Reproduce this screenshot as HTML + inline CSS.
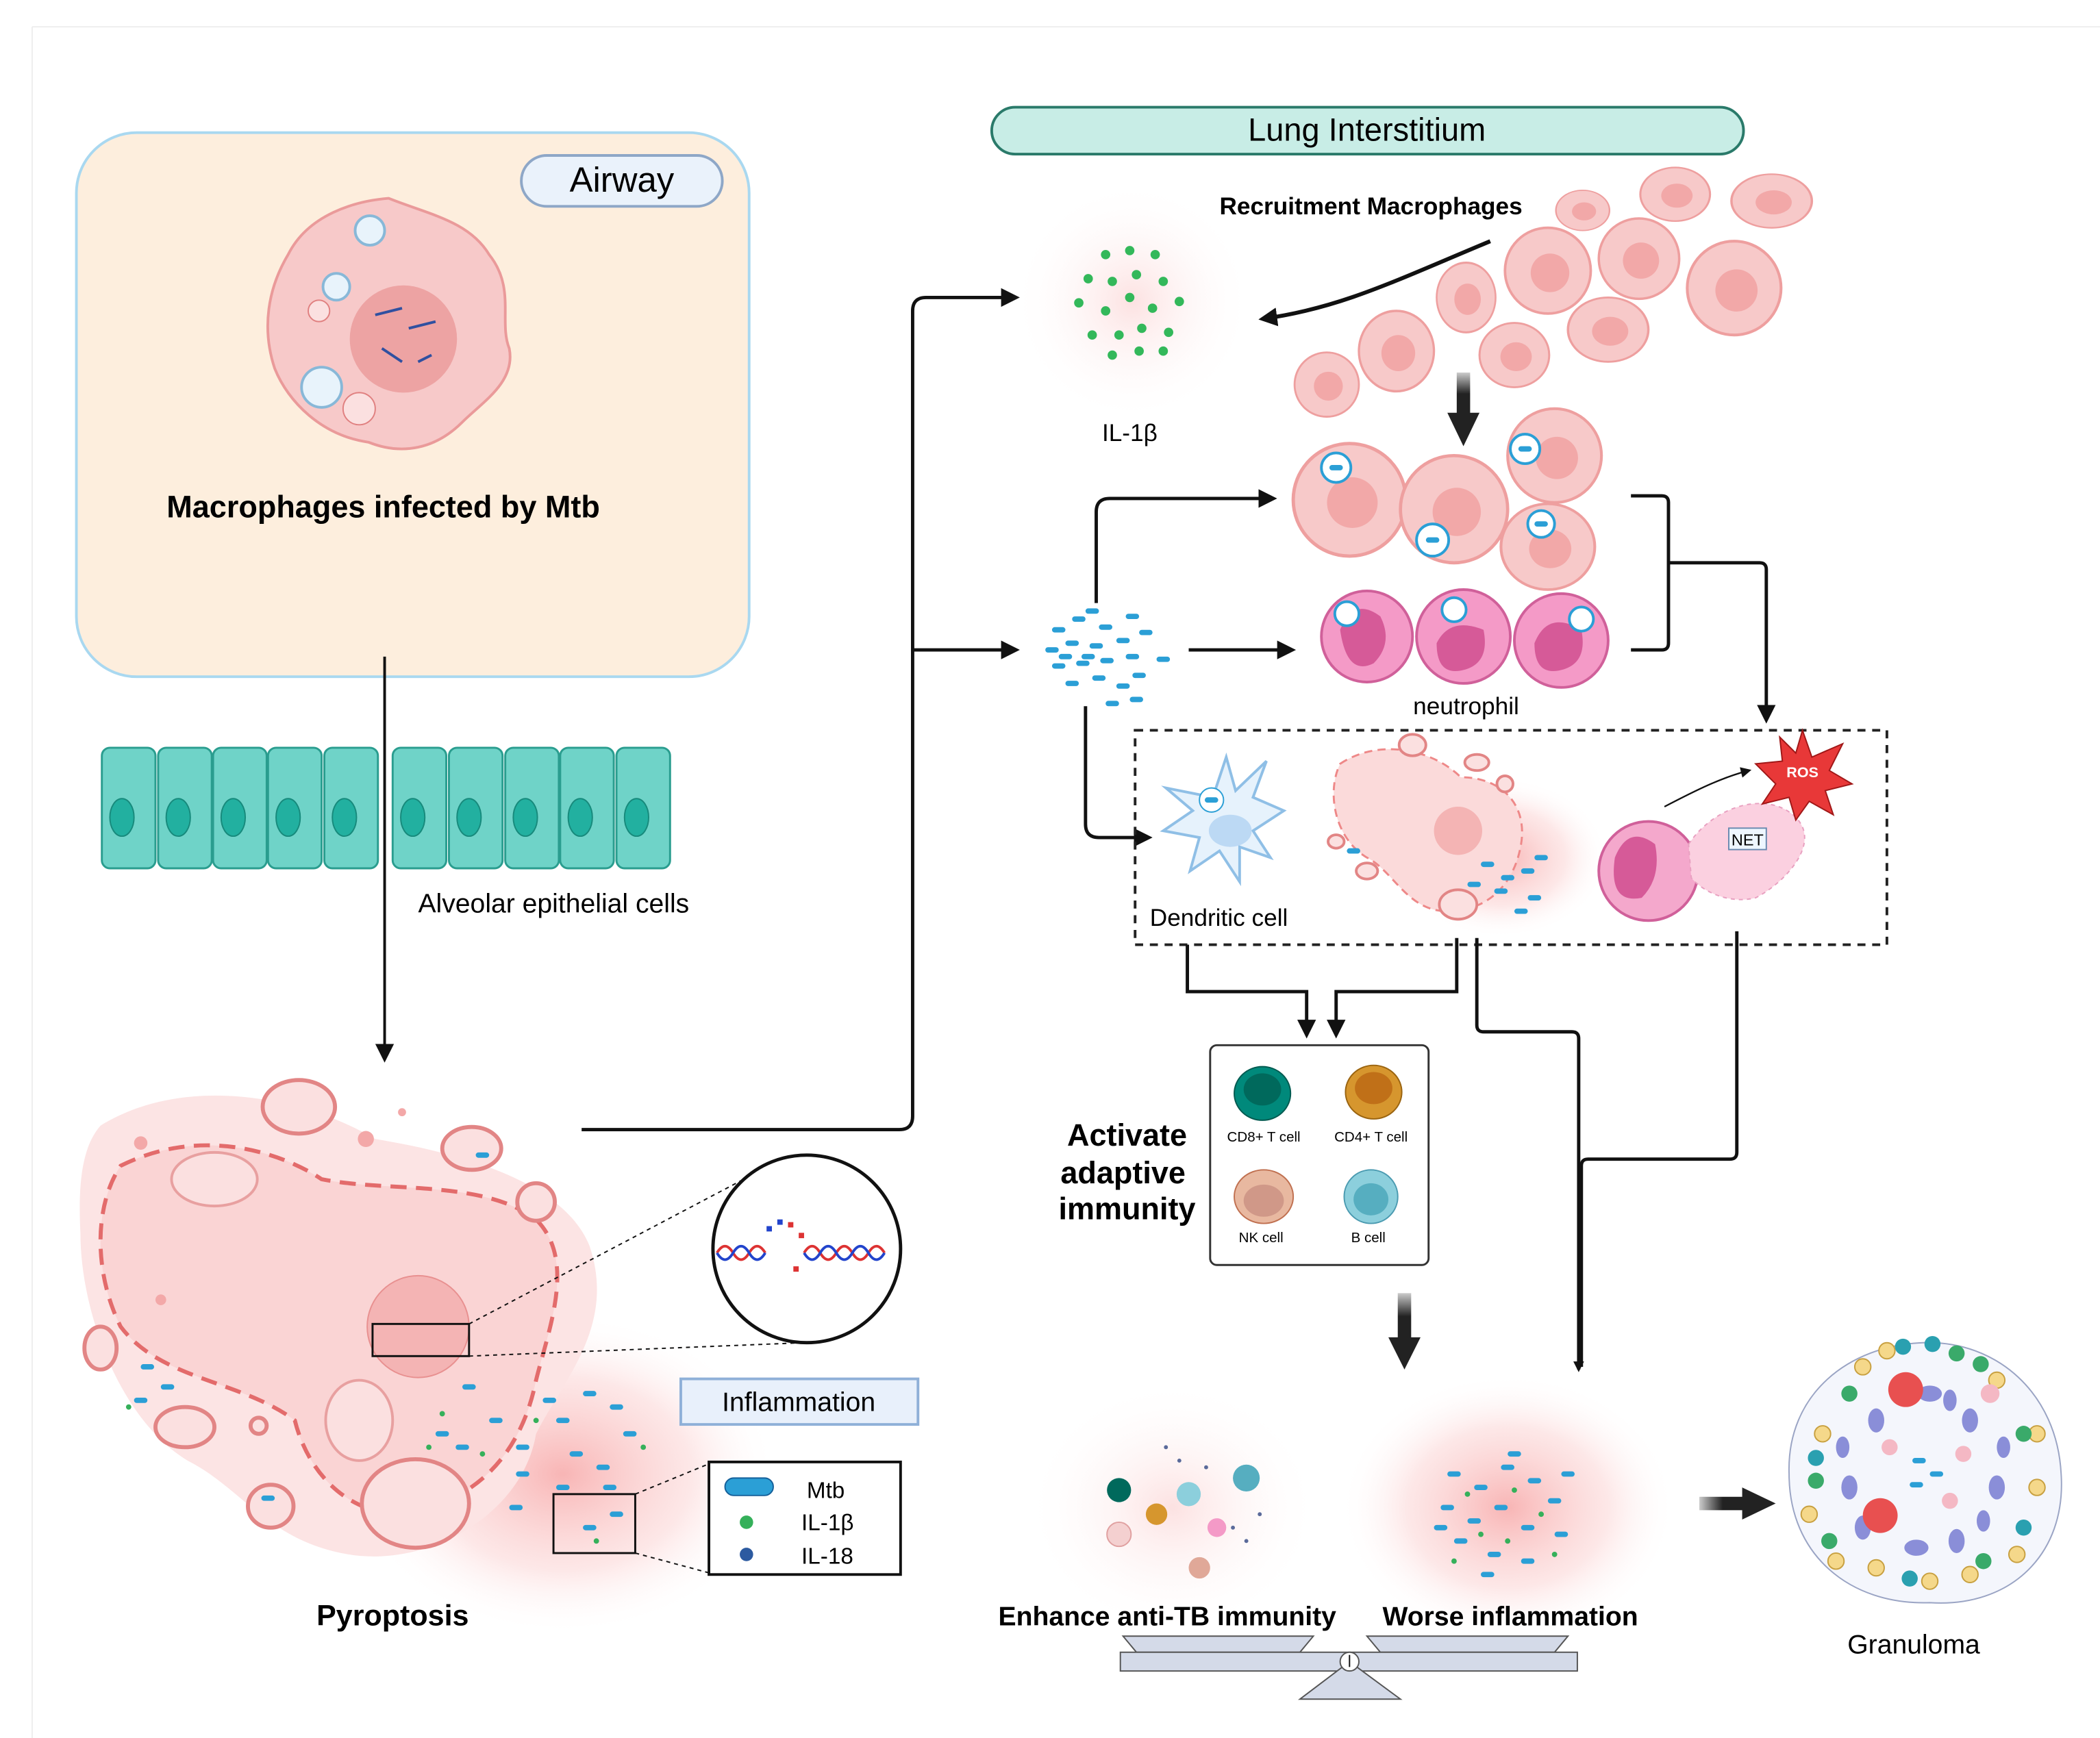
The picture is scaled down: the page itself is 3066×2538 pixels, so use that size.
<!DOCTYPE html>
<html><head><meta charset="utf-8"><style>
html,body{margin:0;padding:0;background:#fff}
svg{display:block}
text{font-family:"Liberation Sans",sans-serif}
</style></head><body>
<svg width="3066" height="2538" viewBox="0 0 1567 1297" preserveAspectRatio="none" xmlns="http://www.w3.org/2000/svg">
<defs>
<marker id="ah" markerWidth="8" markerHeight="8" refX="6" refY="4" orient="auto" markerUnits="userSpaceOnUse"><path d="M0,0 L8,4 L0,8 Z" fill="#111"/></marker>
<marker id="ah2" markerWidth="14" markerHeight="14" refX="11" refY="7" orient="auto" markerUnits="userSpaceOnUse"><path d="M0,0 L14,7 L0,14 Z" fill="#111"/></marker>
<radialGradient id="glowR"><stop offset="0" stop-color="#f7a8a8" stop-opacity=".85"/><stop offset=".6" stop-color="#fbd0d0" stop-opacity=".5"/><stop offset="1" stop-color="#fff" stop-opacity="0"/></radialGradient>
<radialGradient id="glowL"><stop offset="0" stop-color="#fcdede" stop-opacity=".9"/><stop offset="1" stop-color="#fff" stop-opacity="0"/></radialGradient>
<linearGradient id="tarrow" x1="0" x2="0" y1="0" y2="1"><stop offset="0" stop-color="#ccc"/><stop offset=".5" stop-color="#222"/></linearGradient>
<linearGradient id="tarrowH" x1="0" x2="1"><stop offset="0" stop-color="#ccc"/><stop offset=".5" stop-color="#222"/></linearGradient>
<g id="mac"><circle r="1" fill="#f7c9c9" stroke="#ee9f9f" stroke-width=".06"/><circle cx=".05" cy=".05" r=".45" fill="#f2a8a8"/></g>
<g id="mtb"><rect x="-5" y="-2" width="10" height="4" rx="2" fill="#2b9fd6"/></g>
</defs>
<rect width="1567" height="1297" fill="#fff"/>
<line x1="24" y1="20" x2="24" y2="1297" stroke="#eee"/>
<line x1="24" y1="20" x2="1567" y2="20" stroke="#eee"/>

<!-- Airway box -->
<rect x="57" y="99" width="502" height="406" rx="45" fill="#fdeedd" stroke="#a9d8f0" stroke-width="2"/>
<rect x="389" y="116" width="150" height="38" rx="19" fill="#eaf2fb" stroke="#8ea7c7" stroke-width="2"/>
<text x="464" y="143" font-size="26" text-anchor="middle">Airway</text>
<path d="M290,148 C320,160 350,165 365,190 C385,215 372,240 380,260 C385,285 360,300 345,315 C325,335 300,340 275,330 C240,325 215,300 205,275 C195,245 200,215 215,190 C230,160 265,150 290,148 Z" fill="#f7c9c9" stroke="#ea9a9a" stroke-width="2"/>
<circle cx="301" cy="253" r="40" fill="#eda3a3"/>
<circle cx="276" cy="172" r="11" fill="#e8f3fb" stroke="#88b8d8" stroke-width="2"/>
<circle cx="251" cy="214" r="10" fill="#e8f3fb" stroke="#88b8d8" stroke-width="2"/>
<circle cx="240" cy="289" r="15" fill="#e8f3fb" stroke="#88b8d8" stroke-width="2"/>
<circle cx="268" cy="305" r="12" fill="#fbe0e0" stroke="#e08080"/>
<circle cx="238" cy="232" r="8" fill="#fbe0e0" stroke="#e08080"/>
<path d="M280,235 l20,-5 M285,260 l15,10 M305,245 l20,-5 M312,270 l10,-5" stroke="#3050a0" stroke-width="2"/>
<text x="286" y="386" font-size="23" font-weight="bold" text-anchor="middle">Macrophages infected by Mtb</text>
<line x1="287" y1="490" x2="287" y2="790" stroke="#111" stroke-width="2" marker-end="url(#ah2)"/>

<!-- epithelial -->
<g fill="#6fd3c8" stroke="#2a9d8f" stroke-width="1.5">
<rect x="76" y="558" width="40" height="90" rx="6"/><rect x="118" y="558" width="40" height="90" rx="6"/><rect x="159" y="558" width="40" height="90" rx="6"/><rect x="200" y="558" width="40" height="90" rx="6"/><rect x="242" y="558" width="40" height="90" rx="6"/>
<rect x="293" y="558" width="40" height="90" rx="6"/><rect x="335" y="558" width="40" height="90" rx="6"/><rect x="377" y="558" width="40" height="90" rx="6"/><rect x="418" y="558" width="40" height="90" rx="6"/><rect x="460" y="558" width="40" height="90" rx="6"/>
</g>
<g fill="#22b0a0" stroke="#178a7c"><ellipse cx="91" cy="610" rx="9" ry="14"/><ellipse cx="133" cy="610" rx="9" ry="14"/><ellipse cx="174" cy="610" rx="9" ry="14"/><ellipse cx="215" cy="610" rx="9" ry="14"/><ellipse cx="257" cy="610" rx="9" ry="14"/><ellipse cx="308" cy="610" rx="9" ry="14"/><ellipse cx="350" cy="610" rx="9" ry="14"/><ellipse cx="392" cy="610" rx="9" ry="14"/><ellipse cx="433" cy="610" rx="9" ry="14"/><ellipse cx="475" cy="610" rx="9" ry="14"/></g>
<text x="312" y="681" font-size="20">Alveolar epithelial cells</text>

<!-- Pyroptosis -->
<ellipse cx="420" cy="1100" rx="160" ry="120" fill="url(#glowR)"/>
<path d="M75,840 C140,800 230,820 280,850 C340,860 420,880 440,930 C460,990 420,1030 400,1070 C390,1130 320,1170 260,1160 C200,1150 180,1110 140,1090 C90,1060 60,980 60,920 C58,880 62,855 75,840 Z" fill="#fce4e4"/>
<path d="M90,870 C150,840 210,860 240,880 C290,890 360,880 400,910 C430,940 410,990 400,1030 C390,1080 360,1120 300,1130 C260,1130 230,1100 220,1060 C180,1030 120,1030 90,990 C70,950 70,900 90,870 Z" fill="#fad4d4" stroke="#e36b6b" stroke-width="3" stroke-dasharray="12,7"/>
<circle cx="312" cy="990" r="38" fill="#f4b4b4" stroke="#e89090"/>
<ellipse cx="160" cy="880" rx="32" ry="20" fill="#fbe0e0" stroke="#e8a0a0" stroke-width="2"/>
<ellipse cx="268" cy="1060" rx="25" ry="30" fill="#fbe0e0" stroke="#e8a0a0" stroke-width="2"/>
<g fill="#fbe0e0" stroke="#e28585" stroke-width="3">
<ellipse cx="223" cy="826" rx="27" ry="20"/><ellipse cx="352" cy="857" rx="22" ry="16"/><circle cx="400" cy="897" r="14"/><ellipse cx="75" cy="1006" rx="12" ry="16"/><ellipse cx="138" cy="1065" rx="22" ry="15"/><ellipse cx="202" cy="1124" rx="17" ry="16"/><ellipse cx="310" cy="1122" rx="40" ry="33"/><circle cx="193" cy="1064" r="6"/>
</g>
<g fill="#f3a8a8"><circle cx="273" cy="850" r="6"/><circle cx="105" cy="853" r="5"/><circle cx="300" cy="830" r="3"/><circle cx="120" cy="970" r="4"/></g>
<g>
<use href="#mtb" x="110" y="1020"/><use href="#mtb" x="125" y="1035"/><use href="#mtb" x="105" y="1045"/><use href="#mtb" x="350" y="1035"/><use href="#mtb" x="370" y="1060"/><use href="#mtb" x="390" y="1080"/><use href="#mtb" x="420" y="1060"/><use href="#mtb" x="440" y="1040"/><use href="#mtb" x="460" y="1050"/><use href="#mtb" x="390" y="1100"/><use href="#mtb" x="420" y="1110"/><use href="#mtb" x="450" y="1095"/><use href="#mtb" x="470" y="1070"/><use href="#mtb" x="430" y="1085"/><use href="#mtb" x="410" y="1045"/><use href="#mtb" x="360" y="862"/><use href="#mtb" x="200" y="1118"/><use href="#mtb" x="345" y="1080"/><use href="#mtb" x="460" y="1130"/><use href="#mtb" x="440" y="1140"/><use href="#mtb" x="330" y="1070"/><use href="#mtb" x="385" y="1125"/><use href="#mtb" x="455" y="1110"/>
</g>
<g fill="#35b05a"><circle cx="330" cy="1055" r="2"/><circle cx="360" cy="1085" r="2"/><circle cx="400" cy="1060" r="2"/><circle cx="480" cy="1080" r="2"/><circle cx="445" cy="1150" r="2"/><circle cx="96" cy="1050" r="2"/><circle cx="320" cy="1080" r="2"/></g>
<rect x="278" y="988" width="72" height="24" fill="none" stroke="#111" stroke-width="1.5"/>
<line x1="350" y1="988" x2="555" y2="880" stroke="#111" stroke-dasharray="3,3"/>
<line x1="350" y1="1012" x2="600" y2="1002" stroke="#111" stroke-dasharray="3,3"/>
<circle cx="602" cy="932" r="70" fill="#fff" stroke="#111" stroke-width="2.5"/>
<path d="M535,935 q6,-10 12,0 t12,0 t12,0 M600,935 q6,-10 12,0 t12,0 t12,0 t12,0 t12,0" fill="none" stroke="#d33" stroke-width="2"/>
<path d="M535,935 q6,10 12,0 t12,0 t12,0 M600,935 q6,10 12,0 t12,0 t12,0 t12,0 t12,0" fill="none" stroke="#24c" stroke-width="2"/>
<g fill="#d33"><rect x="588" y="912" width="4" height="4"/><rect x="596" y="920" width="4" height="4"/><rect x="592" y="945" width="4" height="4"/></g>
<g fill="#24c"><rect x="572" y="915" width="4" height="4"/><rect x="580" y="910" width="4" height="4"/></g>
<rect x="413" y="1115" width="61" height="44" fill="none" stroke="#111" stroke-width="1.5"/>
<line x1="474" y1="1115" x2="530" y2="1092" stroke="#111" stroke-dasharray="3,3"/>
<line x1="474" y1="1159" x2="530" y2="1174" stroke="#111" stroke-dasharray="3,3"/>
<rect x="508" y="1029" width="177" height="34" fill="#e8f0fb" stroke="#8fb0d8" stroke-width="2"/>
<text x="596" y="1053" font-size="20" text-anchor="middle">Inflammation</text>
<rect x="529" y="1091" width="143" height="84" fill="#fff" stroke="#111" stroke-width="2"/>
<rect x="541" y="1103" width="36" height="13" rx="6.5" fill="#2b9fd6" stroke="#15609a"/>
<circle cx="557" cy="1136" r="5" fill="#35b05a"/><circle cx="557" cy="1160" r="5" fill="#2c5aa0"/>
<text x="602" y="1118" font-size="17">Mtb</text><text x="598" y="1142" font-size="17">IL-1β</text><text x="598" y="1167" font-size="17">IL-18</text>
<text x="293" y="1213" font-size="22" font-weight="bold" text-anchor="middle">Pyroptosis</text>

<!-- connectors left->right -->
<path d="M434,843 H671 Q681,843 681,833 V232 Q681,222 691,222 H758" fill="none" stroke="#111" stroke-width="2.5" marker-end="url(#ah2)"/>
<path d="M681,485 H758" fill="none" stroke="#111" stroke-width="2.5" marker-end="url(#ah2)"/>

<!-- Lung Interstitium -->
<rect x="740" y="80" width="561" height="35" rx="17.5" fill="#c8ede6" stroke="#2a7a6a" stroke-width="2"/>
<text x="1020" y="105" font-size="24" text-anchor="middle">Lung Interstitium</text>
<circle cx="845" cy="225" r="90" fill="url(#glowL)"/>
<g fill="#33b85a"><circle cx="825" cy="190" r="3.5"/><circle cx="843" cy="187" r="3.5"/><circle cx="862" cy="190" r="3.5"/><circle cx="812" cy="208" r="3.5"/><circle cx="830" cy="210" r="3.5"/><circle cx="848" cy="205" r="3.5"/><circle cx="868" cy="210" r="3.5"/><circle cx="805" cy="226" r="3.5"/><circle cx="825" cy="232" r="3.5"/><circle cx="843" cy="222" r="3.5"/><circle cx="860" cy="230" r="3.5"/><circle cx="880" cy="225" r="3.5"/><circle cx="815" cy="250" r="3.5"/><circle cx="835" cy="250" r="3.5"/><circle cx="852" cy="245" r="3.5"/><circle cx="872" cy="248" r="3.5"/><circle cx="830" cy="265" r="3.5"/><circle cx="850" cy="262" r="3.5"/><circle cx="868" cy="262" r="3.5"/></g>
<text x="843" y="329" font-size="18" text-anchor="middle">IL-1β</text>
<text x="1023" y="160" font-size="18" font-weight="bold" text-anchor="middle">Recruitment Macrophages</text>
<path d="M1112,180 C1040,210 1000,230 942,238" fill="none" stroke="#111" stroke-width="3" marker-end="url(#ah2)"/>
<g>
<use href="#mac" transform="translate(1181,157) scale(20,15)"/><use href="#mac" transform="translate(1250,145) scale(26,20)"/><use href="#mac" transform="translate(1322,150) scale(30,20)"/>
<use href="#mac" transform="translate(1155,202) scale(32,32)"/><use href="#mac" transform="translate(1223,193) scale(30,30)"/><use href="#mac" transform="translate(1294,215) scale(35,35)"/>
<use href="#mac" transform="translate(1094,222) scale(22,26)"/><use href="#mac" transform="translate(1042,262) scale(28,30)"/><use href="#mac" transform="translate(1130,265) scale(26,24)"/><use href="#mac" transform="translate(1200,246) scale(30,24)"/><use href="#mac" transform="translate(990,287) scale(24,24)"/>
</g>
<rect x="1087" y="278" width="10" height="32" fill="url(#tarrow)"/><path d="M1080,308 L1104,308 L1092,333 Z" fill="#222"/>
<use href="#mac" transform="translate(1007,373) scale(42,42)"/>
<use href="#mac" transform="translate(1085,380) scale(40,40)"/>
<use href="#mac" transform="translate(1160,340) scale(35,35)"/>
<use href="#mac" transform="translate(1155,408) scale(35,32)"/>
<g fill="#fff" stroke="#2b9fd6" stroke-width="2"><circle cx="997" cy="349" r="11"/><circle cx="1069" cy="403" r="12"/><circle cx="1138" cy="335" r="11"/><circle cx="1150" cy="391" r="10"/></g>
<g><use href="#mtb" x="997" y="349"/><use href="#mtb" x="1069" y="403"/><use href="#mtb" x="1138" y="335"/><use href="#mtb" x="1150" y="391"/></g>
<g fill="#f49ac7" stroke="#d0609a" stroke-width="2"><circle cx="1020" cy="475" r="34"/><circle cx="1092" cy="475" r="35"/><circle cx="1165" cy="478" r="35"/></g>
<g fill="#d65a98"><path d="M1000,470 q10,-25 30,-10 q10,20 -5,35 q-20,10 -25,-25Z"/><path d="M1072,480 q10,-20 35,-10 q5,25 -15,30 q-20,5 -20,-20Z"/><path d="M1145,480 q10,-25 35,-10 q5,25 -15,30 q-20,5 -20,-20Z"/></g>
<g fill="#fff" stroke="#2b9fd6" stroke-width="2"><circle cx="1005" cy="458" r="9"/><circle cx="1085" cy="455" r="9"/><circle cx="1180" cy="462" r="9"/></g>
<text x="1094" y="533" font-size="18" text-anchor="middle">neutrophil</text>
<g>
<use href="#mtb" x="790" y="470"/><use href="#mtb" x="805" y="462"/><use href="#mtb" x="825" y="468"/><use href="#mtb" x="845" y="460"/><use href="#mtb" x="785" y="485"/><use href="#mtb" x="800" y="480"/><use href="#mtb" x="818" y="482"/><use href="#mtb" x="838" y="478"/><use href="#mtb" x="855" y="472"/><use href="#mtb" x="790" y="497"/><use href="#mtb" x="808" y="495"/><use href="#mtb" x="826" y="493"/><use href="#mtb" x="845" y="490"/><use href="#mtb" x="868" y="492"/><use href="#mtb" x="800" y="510"/><use href="#mtb" x="820" y="506"/><use href="#mtb" x="838" y="512"/><use href="#mtb" x="830" y="525"/><use href="#mtb" x="848" y="522"/><use href="#mtb" x="815" y="456"/><use href="#mtb" x="850" y="504"/><use href="#mtb" x="812" y="490"/><use href="#mtb" x="795" y="490"/>
</g>
<path d="M818,450 V382 Q818,372 828,372 H950" fill="none" stroke="#111" stroke-width="2.5" marker-end="url(#ah2)"/>
<path d="M887,485 H964" fill="none" stroke="#111" stroke-width="2.5" marker-end="url(#ah2)"/>
<path d="M810,527 V615 Q810,625 820,625 H857" fill="none" stroke="#111" stroke-width="2.5" marker-end="url(#ah2)"/>
<path d="M1217,370 H1240 Q1245,370 1245,375 V480 Q1245,485 1240,485 H1217" fill="none" stroke="#111" stroke-width="2.5"/>
<path d="M1245,420 H1313 Q1318,420 1318,425 V537" fill="none" stroke="#111" stroke-width="2.5" marker-end="url(#ah2)"/>

<!-- dashed box -->
<rect x="847" y="545" width="561" height="160" fill="none" stroke="#222" stroke-width="2" stroke-dasharray="6,5"/>
<path d="M905,595 L915,565 L922,590 L945,568 L935,595 L958,605 L935,620 L948,640 L925,632 L925,658 L910,635 L888,650 L895,625 L868,620 L890,605 L870,588 Z" fill="#e6f2fc" stroke="#8fbfe6" stroke-width="2"/>
<ellipse cx="918" cy="620" rx="16" ry="12" fill="#bcd9f4"/>
<circle cx="904" cy="597" r="9" fill="#fff" stroke="#2b9fd6"/><use href="#mtb" x="904" y="597"/>
<text x="858" y="691" font-size="18">Dendritic cell</text>
<ellipse cx="1120" cy="640" rx="80" ry="60" fill="url(#glowR)"/>
<path d="M1000,570 C1030,550 1070,560 1090,580 C1120,580 1140,600 1135,630 C1130,660 1110,680 1080,680 C1050,680 1040,650 1020,640 C995,625 990,590 1000,570Z" fill="#fbdada" stroke="#e88" stroke-width="1.5" stroke-dasharray="6,4"/>
<circle cx="1088" cy="620" r="18" fill="#f4b4b4"/>
<g fill="#fbe0e0" stroke="#e28585" stroke-width="2"><ellipse cx="1054" cy="556" rx="10" ry="8"/><ellipse cx="1102" cy="569" rx="9" ry="6"/><circle cx="1123" cy="585" r="6"/><ellipse cx="1088" cy="675" rx="14" ry="11"/><ellipse cx="1020" cy="650" rx="8" ry="6"/><ellipse cx="997" cy="628" rx="6" ry="5"/></g>
<g><use href="#mtb" x="1110" y="645"/><use href="#mtb" x="1125" y="655"/><use href="#mtb" x="1140" y="650"/><use href="#mtb" x="1120" y="665"/><use href="#mtb" x="1145" y="670"/><use href="#mtb" x="1010" y="635"/><use href="#mtb" x="1135" y="680"/><use href="#mtb" x="1150" y="640"/><use href="#mtb" x="1100" y="660"/></g>
<circle cx="1230" cy="650" r="37" fill="#f4a8cc" stroke="#d0609a" stroke-width="2"/>
<path d="M1205,640 q10,-25 30,-10 q5,25 -10,40 q-25,5 -20,-30Z" fill="#d65a98"/>
<path d="M1260,630 C1280,600 1320,590 1340,610 C1360,630 1330,660 1310,670 C1290,675 1270,665 1262,655Z" fill="#fbd0e0" stroke="#e8a0c0" stroke-dasharray="3,3"/>
<rect x="1290" y="618" width="28" height="16" fill="#eef6ff" stroke="#6a8ab0"/>
<text x="1304" y="631" font-size="12" text-anchor="middle">NET</text>
<path d="M1242,602 C1265,590 1285,580 1305,575" fill="none" stroke="#111" stroke-width="1.2" marker-end="url(#ah)"/>
<path d="M1345,545 L1352,565 L1375,555 L1365,575 L1382,585 L1362,590 L1368,608 L1350,598 L1340,612 L1335,595 L1315,600 L1325,585 L1310,570 L1330,568 L1328,550 L1340,562 Z" fill="#e83838" stroke="#a01818"/>
<text x="1345" y="580" font-size="11" font-weight="bold" fill="#fff" text-anchor="middle">ROS</text>

<!-- connectors below box -->
<path d="M886,705 V740 H975 V772" fill="none" stroke="#111" stroke-width="2.5" marker-end="url(#ah2)"/>
<path d="M1087,700 V740 H997 V772" fill="none" stroke="#111" stroke-width="2.5" marker-end="url(#ah2)"/>
<path d="M1102,700 V765 Q1102,770 1107,770 H1173 Q1178,770 1178,775 V1022" fill="none" stroke="#111" stroke-width="2.5" marker-end="url(#ah)"/>
<path d="M1296,695 V860 Q1296,865 1291,865 H1185 Q1180,865 1180,870 V1020" fill="none" stroke="#111" stroke-width="2.5"/>

<!-- adaptive box -->
<rect x="903" y="780" width="163" height="164" rx="5" fill="#fff" stroke="#333" stroke-width="1.5"/>
<ellipse cx="942" cy="816" rx="21" ry="20" fill="#00897b" stroke="#005a50"/><ellipse cx="942" cy="813" rx="14" ry="12" fill="#00695c"/>
<ellipse cx="1025" cy="815" rx="21" ry="20" fill="#d6962e" stroke="#9a6410"/><ellipse cx="1025" cy="812" rx="14" ry="12" fill="#c07018"/>
<ellipse cx="943" cy="893" rx="22" ry="20" fill="#e8b8a0" stroke="#c07050"/><ellipse cx="943" cy="896" rx="15" ry="12" fill="#d09888"/>
<ellipse cx="1023" cy="893" rx="20" ry="20" fill="#8ccfdc" stroke="#4a9ab0"/><ellipse cx="1023" cy="895" rx="13" ry="12" fill="#56aec0"/>
<text x="943" y="852" font-size="10.5" text-anchor="middle">CD8+ T cell</text><text x="1023" y="852" font-size="10.5" text-anchor="middle">CD4+ T cell</text>
<text x="941" y="927" font-size="10.5" text-anchor="middle">NK cell</text><text x="1021" y="927" font-size="10.5" text-anchor="middle">B cell</text>
<text font-size="23" font-weight="bold" text-anchor="middle"><tspan x="841" y="855">Activate</tspan><tspan x="838" y="883">adaptive</tspan><tspan x="841" y="910">immunity</tspan></text>
<rect x="1043" y="965" width="10" height="35" fill="url(#tarrow)"/><path d="M1036,998 L1060,998 L1048,1022 Z" fill="#222"/>

<!-- outcomes -->
<ellipse cx="875" cy="1125" rx="110" ry="95" fill="url(#glowL)"/>
<ellipse cx="1125" cy="1125" rx="125" ry="100" fill="url(#glowR)"/>
<circle cx="835" cy="1112" r="9" fill="#00695c"/><circle cx="887" cy="1115" r="9" fill="#8ccfdc"/><circle cx="863" cy="1130" r="8" fill="#d6962e"/><circle cx="930" cy="1103" r="10" fill="#56aec0"/><circle cx="895" cy="1170" r="8" fill="#e0a898"/><circle cx="835" cy="1145" r="9" fill="#f4d0d0" stroke="#e0a0a0"/><circle cx="908" cy="1140" r="7" fill="#f49ac7"/>
<g fill="#5a6a9a"><circle cx="870" cy="1080" r="1.5"/><circle cx="880" cy="1090" r="1.5"/><circle cx="900" cy="1095" r="1.5"/><circle cx="920" cy="1140" r="1.5"/><circle cx="930" cy="1150" r="1.5"/><circle cx="940" cy="1130" r="1.5"/></g>
<g><use href="#mtb" x="1085" y="1100"/><use href="#mtb" x="1105" y="1110"/><use href="#mtb" x="1125" y="1095"/><use href="#mtb" x="1145" y="1105"/><use href="#mtb" x="1160" y="1120"/><use href="#mtb" x="1080" y="1125"/><use href="#mtb" x="1100" y="1135"/><use href="#mtb" x="1120" y="1125"/><use href="#mtb" x="1140" y="1140"/><use href="#mtb" x="1165" y="1145"/><use href="#mtb" x="1090" y="1150"/><use href="#mtb" x="1115" y="1160"/><use href="#mtb" x="1140" y="1165"/><use href="#mtb" x="1075" y="1140"/><use href="#mtb" x="1130" y="1085"/><use href="#mtb" x="1170" y="1100"/><use href="#mtb" x="1110" y="1175"/></g>
<g fill="#35b05a"><circle cx="1095" cy="1115" r="2"/><circle cx="1130" cy="1112" r="2"/><circle cx="1150" cy="1130" r="2"/><circle cx="1105" cy="1145" r="2"/><circle cx="1125" cy="1150" r="2"/><circle cx="1160" cy="1160" r="2"/><circle cx="1085" cy="1165" r="2"/></g>
<text x="871" y="1213" font-size="20" font-weight="bold" text-anchor="middle">Enhance anti-TB immunity</text>
<text x="1127" y="1213" font-size="20" font-weight="bold" text-anchor="middle">Worse inflammation</text>
<path d="M838,1221 H980 L970,1233 H848 Z" fill="#d4dae8" stroke="#555"/>
<path d="M1020,1221 H1170 L1160,1233 H1030 Z" fill="#d4dae8" stroke="#555"/>
<rect x="836" y="1233" width="341" height="14" fill="#d4dae8" stroke="#555"/>
<path d="M1007,1240 L1045,1268 H970 Z" fill="#d4dae8" stroke="#555"/>
<circle cx="1007" cy="1240" r="7" fill="#fff" stroke="#555"/><line x1="1007" y1="1244" x2="1007" y2="1235" stroke="#111"/>

<!-- granuloma -->
<rect x="1268" y="1117" width="35" height="10" fill="url(#tarrowH)"/><path d="M1300,1110 L1325,1122 L1300,1134 Z" fill="#222"/>
<path d="M1435,1002 C1490,1000 1535,1040 1538,1100 C1542,1160 1500,1200 1440,1196 C1380,1198 1335,1160 1335,1100 C1333,1040 1380,1004 1435,1002Z" fill="#f4f6fc" stroke="#9aa4c4"/>
<g fill="#f5d88a" stroke="#c8a040"><circle cx="1360" cy="1070" r="6"/><circle cx="1520" cy="1110" r="6"/><circle cx="1400" cy="1170" r="6"/><circle cx="1470" cy="1175" r="6"/><circle cx="1390" cy="1020" r="6"/><circle cx="1490" cy="1030" r="6"/><circle cx="1350" cy="1130" r="6"/><circle cx="1440" cy="1180" r="6"/><circle cx="1505" cy="1160" r="6"/><circle cx="1370" cy="1165" r="6"/><circle cx="1520" cy="1070" r="6"/><circle cx="1408" cy="1008" r="6"/></g>
<g fill="#3aaa6a"><circle cx="1380" cy="1040" r="6"/><circle cx="1460" cy="1010" r="6"/><circle cx="1510" cy="1070" r="6"/><circle cx="1480" cy="1165" r="6"/><circle cx="1365" cy="1150" r="6"/><circle cx="1355" cy="1105" r="6"/><circle cx="1478" cy="1018" r="6"/></g>
<g fill="#2aa0b0"><circle cx="1420" cy="1005" r="6"/><circle cx="1510" cy="1140" r="6"/><circle cx="1425" cy="1178" r="6"/><circle cx="1355" cy="1088" r="6"/><circle cx="1442" cy="1003" r="6"/></g>
<g fill="#8a8ed8"><ellipse cx="1400" cy="1060" rx="6" ry="9"/><ellipse cx="1470" cy="1060" rx="6" ry="9"/><ellipse cx="1490" cy="1110" rx="6" ry="9"/><ellipse cx="1380" cy="1110" rx="6" ry="9"/><ellipse cx="1430" cy="1155" rx="9" ry="6"/><ellipse cx="1460" cy="1150" rx="6" ry="9"/><ellipse cx="1390" cy="1140" rx="6" ry="9"/><ellipse cx="1440" cy="1040" rx="9" ry="6"/><ellipse cx="1375" cy="1080" rx="5" ry="8"/><ellipse cx="1495" cy="1080" rx="5" ry="8"/><ellipse cx="1480" cy="1135" rx="5" ry="8"/><ellipse cx="1455" cy="1045" rx="5" ry="8"/></g>
<circle cx="1422" cy="1037" r="13" fill="#e85050"/><circle cx="1403" cy="1131" r="13" fill="#e85050"/>
<g fill="#f4b8c4"><circle cx="1485" cy="1040" r="7"/><circle cx="1410" cy="1080" r="6"/><circle cx="1455" cy="1120" r="6"/><circle cx="1465" cy="1085" r="6"/></g>
<g><use href="#mtb" x="1432" y="1090"/><use href="#mtb" x="1445" y="1100"/><use href="#mtb" x="1430" y="1108"/></g>
<text x="1428" y="1234" font-size="20" text-anchor="middle">Granuloma</text>
</svg>
</body></html>
